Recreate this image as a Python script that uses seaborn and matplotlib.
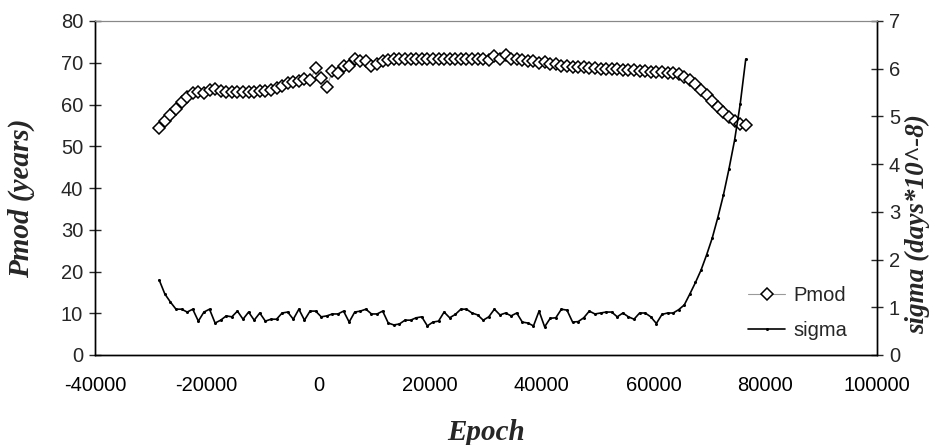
import matplotlib
matplotlib.use("Agg")
import matplotlib.pyplot as plt
import seaborn as sns
import pandas as pd
from matplotlib.lines import Line2D

epoch = [-28500, -27500, -26500, -25500, -24500, -23500, -22500, -21500, -20500, -19500,
         -18500, -17500, -16500, -15500, -14500, -13500, -12500, -11500, -10500, -9500,
         -8500, -7500, -6500, -5500, -4500, -3500, -2500, -1500, -500, 500,
         1500, 2500, 3500, 4500, 5500, 6500, 7500, 8500, 9500, 10500,
         11500, 12500, 13500, 14500, 15500, 16500, 17500, 18500, 19500, 20500,
         21500, 22500, 23500, 24500, 25500, 26500, 27500, 28500, 29500, 30500,
         31500, 32500, 33500, 34500, 35500, 36500, 37500, 38500, 39500, 40500,
         41500, 42500, 43500, 44500, 45500, 46500, 47500, 48500, 49500, 50500,
         51500, 52500, 53500, 54500, 55500, 56500, 57500, 58500, 59500, 60500,
         61500, 62500, 63500, 64500, 65500, 66500, 67500, 68500, 69500, 70500,
         71500, 72500, 73500, 74500, 75500, 76500]

pmod = [54.4, 56.0, 57.5, 59.0, 60.5, 61.8, 62.7, 62.9, 62.8, 63.5,
        63.7, 63.2, 63.0, 63.1, 63.0, 63.0, 63.1, 63.0, 63.2, 63.3,
        63.5, 64.0, 64.5, 65.2, 65.4, 65.6, 66.1, 65.8, 68.7, 66.4,
        64.2, 68.0, 67.6, 69.2, 69.3, 70.9, 70.3, 70.5, 69.3, 69.8,
        70.5, 70.6, 70.8, 70.9, 70.8, 71.0, 70.9, 70.8, 71.0, 70.9,
        71.0, 70.8, 70.9, 71.0, 70.8, 70.9, 71.0, 70.8, 70.9, 70.7,
        71.5, 70.8, 71.8, 71.0, 70.8, 70.7, 70.5, 70.4, 70.0, 70.2,
        69.8, 69.6, 69.3, 69.3, 69.1, 69.0, 68.9, 68.8, 68.7, 68.6,
        68.6, 68.5, 68.4, 68.3, 68.3, 68.2, 68.1, 68.0, 67.9, 67.8,
        67.8, 67.6, 67.5, 67.2, 66.6, 65.8, 64.8, 63.5, 62.2, 60.8,
        59.4, 58.2, 57.0, 56.0, 55.4, 55.0]

sigma = [1.57, 1.28, 1.11, 0.96, 0.96, 0.90, 0.96, 0.71, 0.90, 0.96,
         0.67, 0.73, 0.82, 0.80, 0.92, 0.75, 0.90, 0.73, 0.88, 0.71,
         0.75, 0.75, 0.88, 0.90, 0.75, 0.96, 0.73, 0.92, 0.92, 0.80,
         0.82, 0.86, 0.86, 0.92, 0.69, 0.90, 0.92, 0.96, 0.86, 0.86,
         0.92, 0.67, 0.63, 0.65, 0.73, 0.73, 0.78, 0.80, 0.61, 0.69,
         0.71, 0.90, 0.78, 0.85, 0.96, 0.96, 0.88, 0.84, 0.73, 0.80,
         0.96, 0.84, 0.88, 0.82, 0.88, 0.69, 0.67, 0.61, 0.92, 0.59,
         0.77, 0.78, 0.96, 0.94, 0.69, 0.70, 0.78, 0.92, 0.86, 0.88,
         0.90, 0.90, 0.80, 0.88, 0.80, 0.75, 0.88, 0.88, 0.80, 0.66,
         0.85, 0.88, 0.88, 0.95, 1.05, 1.28, 1.52, 1.78, 2.10, 2.45,
         2.88, 3.35, 3.90, 4.50, 5.25, 6.20]

x_ticks = [-40000, -20000, 0, 20000, 40000, 60000, 80000, 100000]

df = pd.DataFrame({"Epoch": epoch, "Pmod": pmod, "sigma": sigma})

sns.set_style("white")
plt.rcParams["font.family"] = ["Liberation Sans", "DejaVu Sans"]

fig = plt.figure(figsize=(9.35, 4.45), dpi=100)
ax = fig.add_axes([95 / 935, 90 / 445, 782 / 935, 334 / 445])
ax2 = ax.twinx()

sns.lineplot(data=df, x="Epoch", y="Pmod", ax=ax, color="#9a9a9a", linewidth=0.8,
             marker="D", markersize=6, markerfacecolor="white",
             markeredgecolor="black", markeredgewidth=1.1, zorder=3)
sns.lineplot(data=df, x="Epoch", y="sigma", ax=ax2, color="black", linewidth=1.2,
             marker="o", markersize=2.2, markeredgewidth=0, zorder=2)

ax.set_xlim(-40000, 100000)
ax.set_ylim(0, 80)
ax2.set_ylim(0, 7)
ax.set_xticks(x_ticks)
ax.set_xticklabels([str(t) for t in x_ticks])
ax.set_yticks(range(0, 81, 10))
ax2.set_yticks(range(0, 8))

tick_fs = 14.5
ax.tick_params(axis="x", direction="out", length=5, width=1, labelsize=tick_fs, pad=10, colors="black")
ax.tick_params(axis="y", direction="inout", length=9, width=1, labelsize=tick_fs, pad=4)
ax2.tick_params(axis="y", direction="inout", length=9, width=1, labelsize=tick_fs, pad=4)

for a in (ax, ax2):
    for s in ("left", "right", "bottom"):
        a.spines[s].set_color("black")
        a.spines[s].set_linewidth(1.0)
    a.spines["top"].set_color("#888888")
    a.spines["top"].set_linewidth(0.8)

lab_font = dict(family=["Liberation Serif", "DejaVu Serif"], fontweight="bold",
                fontstyle="italic", fontsize=21)
ax.set_xlabel("Epoch", **lab_font)
ax.set_ylabel("Pmod (years)", **lab_font)
ax2.set_ylabel("sigma (days*10^-8)", rotation=90,
               **{**lab_font, "fontsize": 19.5})
ax.xaxis.set_label_coords(0.5, -(432 - 355) / 334)
ax.yaxis.set_label_coords(-(95 - 21) / 782, (355 - 198) / 334)
ax2.yaxis.set_label_coords((918 - 95) / 782, (355 - 224) / 334)
ax.xaxis.label.set_va("center")
ax.yaxis.label.set_va("center")
ax2.yaxis.label.set_va("center")

handles = [
    Line2D([], [], color="#9a9a9a", linewidth=0.8, marker="D", markersize=6,
           markerfacecolor="white", markeredgecolor="black", markeredgewidth=1.1),
    Line2D([], [], color="black", linewidth=1.2, marker="o", markersize=2.2,
           markeredgewidth=0),
]
fig.legend(handles, ["Pmod", "sigma"], loc="upper left",
           bbox_to_anchor=(748 / 935, 1 - 286 / 445), frameon=False,
           borderpad=0, borderaxespad=0,
           fontsize=tick_fs, handlelength=1.85, handletextpad=0.4, labelspacing=0.78)

fig.savefig("out.png", dpi=100, facecolor="white")
